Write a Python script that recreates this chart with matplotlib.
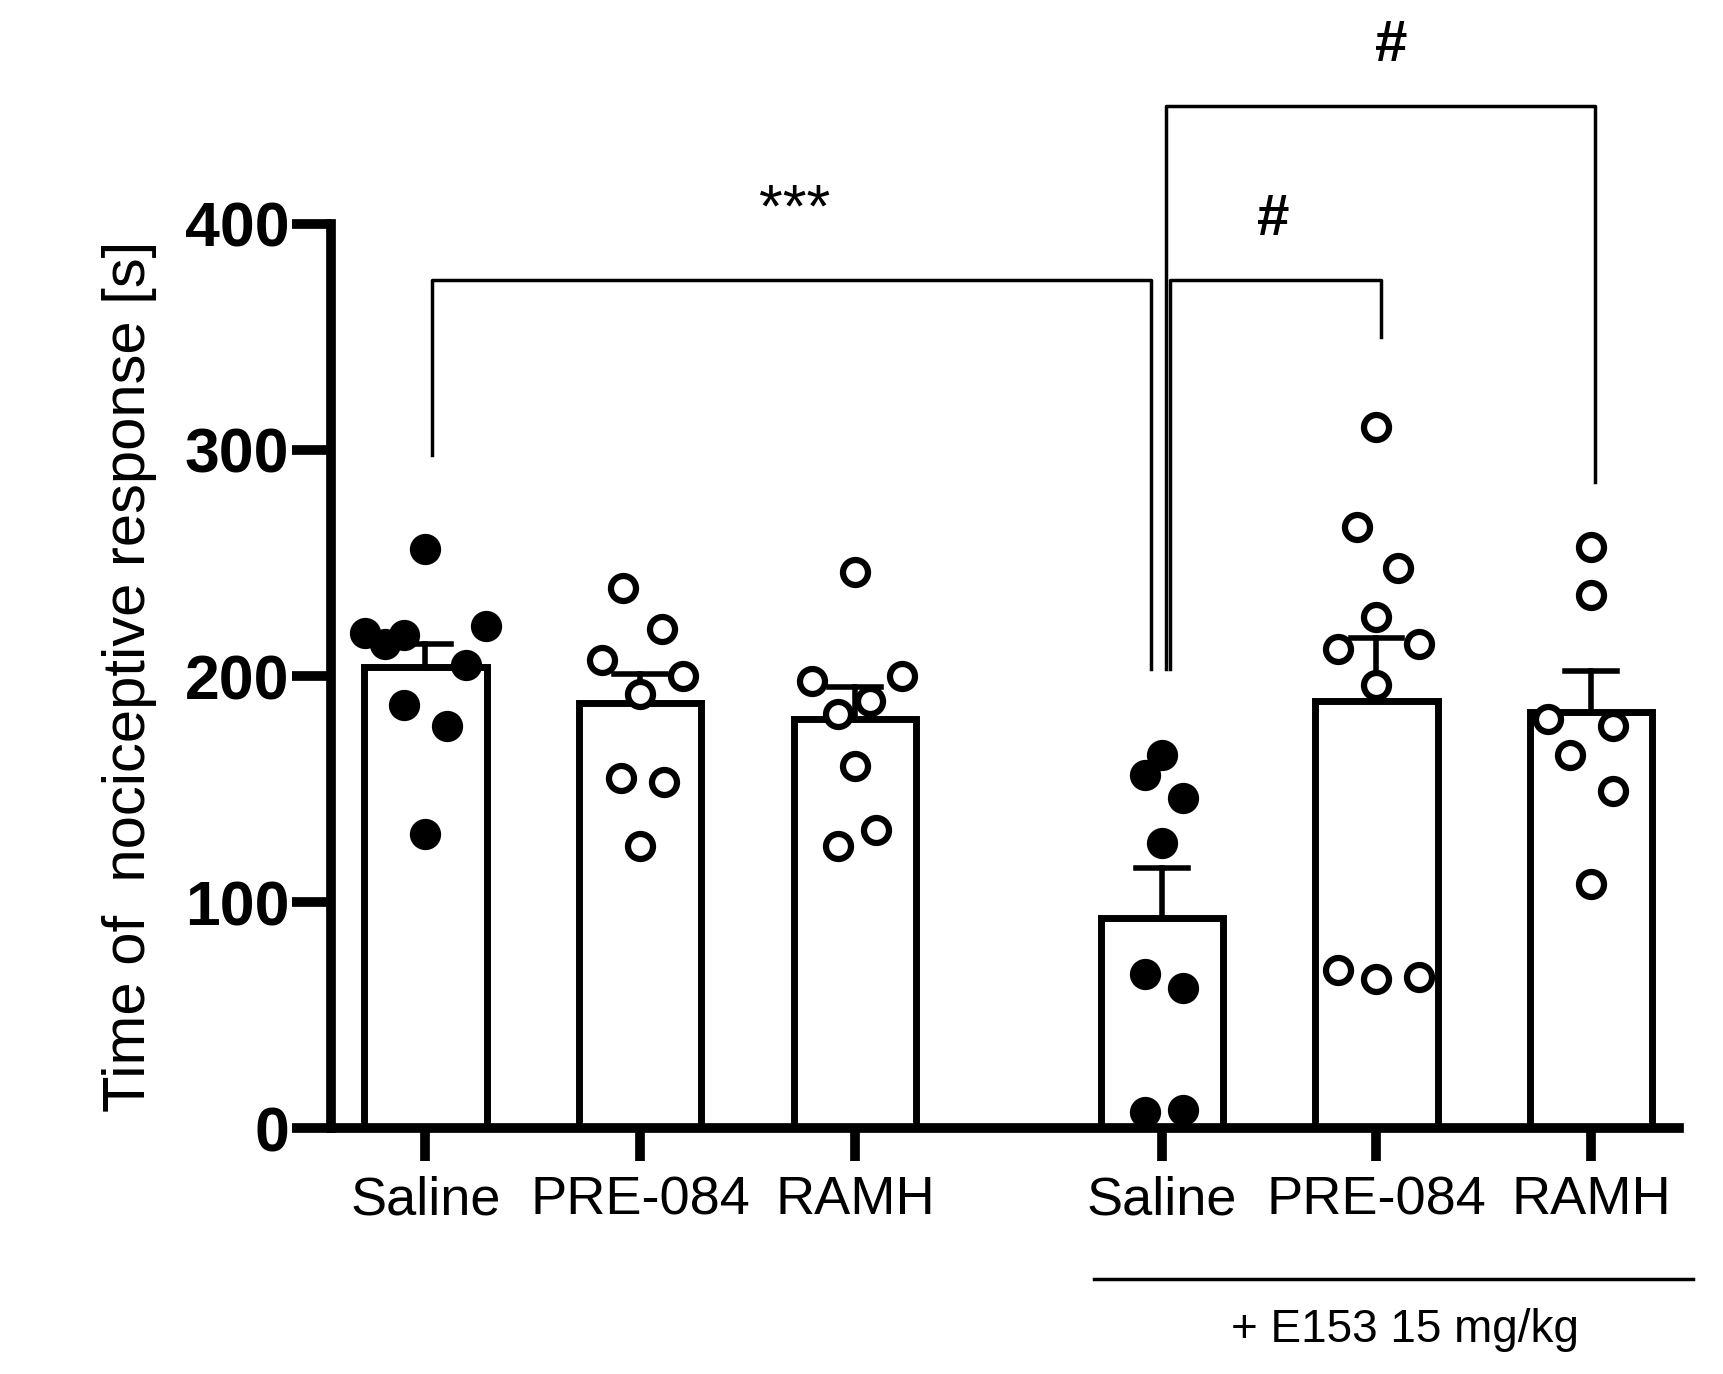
import matplotlib
matplotlib.use("Agg")
import matplotlib.pyplot as plt

plt.rcParams['font.family'] = ['Liberation Sans', 'DejaVu Sans']

labels = ["Saline", "PRE-084", "RAMH", "Saline", "PRE-084", "RAMH"]
positions = [0, 1, 2, 3.43, 4.43, 5.43]
means = [204, 188, 181, 93, 189, 184]
sems = [10, 13, 14, 22, 28, 18]
filled = [True, False, False, True, False, False]
pts_x = [
    [0, -0.28, -0.19, -0.10, 0.28, 0.19, -0.10, 0.10, 0],
    [-0.08, 0.10, -0.18, 0.20, 0, -0.09, 0.11, 0],
    [0, -0.20, 0.22, 0.07, -0.08, 0, -0.08, 0.10],
    [0, -0.08, 0.10, 0, -0.08, 0.10, -0.08, 0.10],
    [0, -0.09, 0.10, 0, -0.18, 0.20, 0, -0.18, 0, 0.20],
    [0, 0, -0.20, 0.10, -0.10, 0.10, 0],
]
pts_y = [
    [256, 219, 214, 218, 222, 205, 187, 178, 130],
    [239, 221, 207, 200, 192, 155, 153, 125],
    [246, 198, 200, 189, 183, 160, 125, 132],
    [165, 156, 146, 126, 68, 62, 7, 8],
    [310, 266, 248, 226, 212, 214, 196, 70, 66, 67],
    [257, 236, 181, 178, 165, 149, 108],
]

fig = plt.figure(figsize=(17.24, 13.74), dpi=100)
ax = fig.add_axes([0.192, 0.179, 0.782, 0.658])
ax.bar(positions, means, width=0.57, color='white', edgecolor='black', linewidth=5, zorder=2)
for p, m, s in zip(positions, means, sems):
    ax.plot([p, p], [m, m + s], color='black', lw=4, zorder=3, clip_on=False)
    ax.plot([p - 0.12, p + 0.12], [m + s, m + s], color='black', lw=4, zorder=3, clip_on=False)
for p, xs, ys, f in zip(positions, pts_x, pts_y, filled):
    ax.plot([p + dx for dx in xs], ys, 'o', ms=18, mfc='black' if f else 'white',
            mec='black', mew=4.5, zorder=4, clip_on=False)

ax.set_xlim(-0.44, 5.84)
ax.set_ylim(0, 400)
ax.set_yticks([0, 100, 200, 300, 400])
ax.set_xticks(positions)
ax.set_xticklabels(labels, fontsize=39)
for t in ax.get_yticklabels():
    t.set_fontweight('bold'); t.set_fontsize(45)
ax.tick_params(axis='y', length=28, width=7, direction='out', pad=2)
ax.tick_params(axis='x', length=24, width=7, direction='out', pad=10)
for s in ['top', 'right']:
    ax.spines[s].set_visible(False)
for s in ['left', 'bottom']:
    ax.spines[s].set_linewidth(7)
ax.set_ylabel("Time of  nociceptive response [s]", fontsize=43, labelpad=20)

def bracket(x1, y1, x2, y2, ytop):
    ax.plot([x1, x1, x2, x2], [y1, ytop, ytop, y2], color='black', lw=2.5, clip_on=False)

bracket(0.03, 298, 3.38, 203, 375)
bracket(3.47, 203, 4.45, 350, 375)
bracket(3.45, 203, 5.45, 286, 452)
ax.text(1.72, 393, "***", fontsize=44, ha='center', va='bottom')
ax.text(3.95, 390, "#", fontsize=42, fontweight='bold', ha='center', va='bottom')
ax.text(4.5, 467, "#", fontsize=42, fontweight='bold', ha='center', va='bottom')

fig.add_artist(plt.Line2D([990/1560, 1532/1560], [1-1157/1243]*2, color='black', lw=2.5))
fig.text(1271/1560, 1-1203/1243, "+ E153 15 mg/kg", fontsize=33, ha='center', va='center')

fig.savefig("out.png", dpi=100)
